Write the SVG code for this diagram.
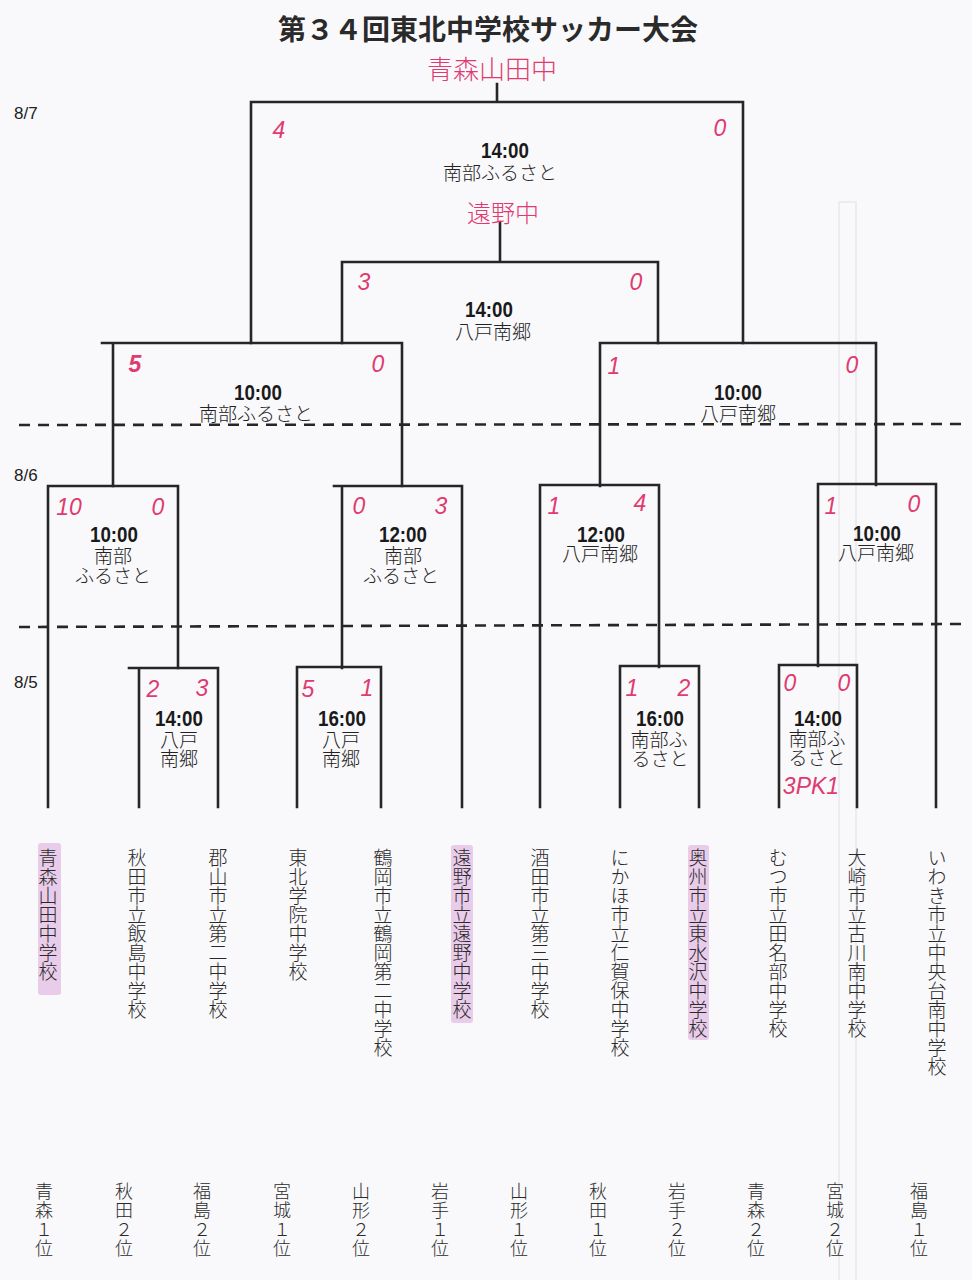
<svg xmlns="http://www.w3.org/2000/svg" width="972" height="1280" viewBox="0 0 972 1280">
<style>
.ln{stroke:#262626;stroke-width:2.6;fill:none;stroke-linecap:square}
.dash{stroke:#262626;stroke-width:2.6;stroke-dasharray:11 8;fill:none}
.t{font-family:"Noto Sans CJK JP","Noto Sans CJK SC",sans-serif;font-size:19px;fill:#222;text-anchor:middle;font-weight:300}
.tm{font-family:"Liberation Sans",sans-serif;font-size:22px;fill:#1a1a1a;text-anchor:middle;font-weight:bold}
.sc{font-family:"Liberation Sans","Noto Sans CJK JP",sans-serif;font-style:italic;font-size:23px;fill:#e03a70;text-anchor:middle}
.hw{font-family:"Noto Sans CJK JP",sans-serif;fill:#e03a70;text-anchor:middle;font-weight:300}
.v{font-family:"Noto Sans CJK JP","Noto Sans CJK SC",sans-serif;font-size:19px;fill:#2a2a2a;writing-mode:vertical-rl;font-weight:300}
.vb{font-family:"Noto Sans CJK JP","Noto Sans CJK SC",sans-serif;font-size:18px;fill:#2a2a2a;writing-mode:vertical-rl;font-weight:300;letter-spacing:1px}
.dt{font-family:"Liberation Sans Narrow","Liberation Sans",sans-serif;font-size:17px;fill:#222}
.hl{fill:#dca6dc;opacity:0.55}
</style>
<rect width="972" height="1280" fill="#f9f9fb"/>
<rect x="839" y="202" width="17" height="1090" fill="none" stroke="#ececf0" stroke-width="2"/>

<text x="488" y="40" font-family="Noto Sans CJK JP, sans-serif" font-size="28" font-weight="bold" fill="#2a2a2a" text-anchor="middle">第３４回東北中学校サッカー大会</text>

<g id="dates">
<text class="dt" x="14" y="119">8/7</text>
<text class="dt" x="14" y="481">8/6</text>
<text class="dt" x="14" y="688">8/5</text>
</g>

<g id="connectors">
<line class="dash" x1="19" y1="425" x2="964" y2="424"/>
<line class="dash" x1="19" y1="627" x2="964" y2="624"/>
<path class="ln" d="M497 84V102M251 343V102H743V343"/>
<path class="ln" d="M500 222V262M342 343V262H658V343"/>
<path class="ln" d="M113 486V343H102M102 343H402V486"/>
<path class="ln" d="M600 486V343H876V485"/>
<path class="ln" d="M48 807V486H178V668"/>
<path class="ln" d="M342 668V486H334M334 486H462V807"/>
<path class="ln" d="M540 807V485H659V667"/>
<path class="ln" d="M818 666V484H936V807"/>
<path class="ln" d="M139 807V668H129M129 668H218V807"/>
<path class="ln" d="M297 807V667H381V807"/>
<path class="ln" d="M620 807V666H699V807"/>
<path class="ln" d="M779 807V665H857V807"/>
</g>

<g id="final">
<text class="hw" x="492" y="79" font-size="26">青森山田中</text>
<text class="sc" x="279" y="138">4</text>
<text class="sc" x="720" y="136">0</text>
<text class="tm" x="505" y="158" textLength="48" lengthAdjust="spacingAndGlyphs">14:00</text>
<text class="t" x="500" y="180">南部ふるさと</text>
<text class="hw" x="503" y="222" font-size="24">遠野中</text>
</g>
<g id="match-inner">
<text class="sc" x="364" y="290">3</text>
<text class="sc" x="636" y="290">0</text>
<text class="tm" x="489" y="317" textLength="48" lengthAdjust="spacingAndGlyphs">14:00</text>
<text class="t" x="493" y="339">八戸南郷</text>
</g>
<g id="qf-left">
<text class="sc" x="135" y="372" font-weight="bold">5</text>
<text class="sc" x="378" y="372">0</text>
<text class="tm" x="258" y="400" textLength="48" lengthAdjust="spacingAndGlyphs">10:00</text>
<text class="t" x="256" y="421">南部ふるさと</text>
</g>
<g id="qf-right">
<text class="sc" x="614" y="374">1</text>
<text class="sc" x="852" y="373">0</text>
<text class="tm" x="738" y="400" textLength="48" lengthAdjust="spacingAndGlyphs">10:00</text>
<text class="t" x="738" y="421">八戸南郷</text>
</g>
<g id="r2-1">
<text class="sc" x="69" y="515">10</text>
<text class="sc" x="158" y="515">0</text>
<text class="tm" x="114" y="542" textLength="48" lengthAdjust="spacingAndGlyphs">10:00</text>
<text class="t" x="113" y="563">南部</text>
<text class="t" x="113" y="583">ふるさと</text>
</g>
<g id="r2-2">
<text class="sc" x="359" y="514">0</text>
<text class="sc" x="441" y="514">3</text>
<text class="tm" x="403" y="542" textLength="48" lengthAdjust="spacingAndGlyphs">12:00</text>
<text class="t" x="403" y="563">南部</text>
<text class="t" x="401" y="583">ふるさと</text>
</g>
<g id="r2-3">
<text class="sc" x="554" y="514">1</text>
<text class="sc" x="640" y="511">4</text>
<text class="tm" x="601" y="542" textLength="48" lengthAdjust="spacingAndGlyphs">12:00</text>
<text class="t" x="600" y="561">八戸南郷</text>
</g>
<g id="r2-4">
<text class="sc" x="831" y="514">1</text>
<text class="sc" x="914" y="512">0</text>
<text class="tm" x="877" y="541" textLength="48" lengthAdjust="spacingAndGlyphs">10:00</text>
<text class="t" x="876" y="560">八戸南郷</text>
</g>
<g id="r1-1">
<text class="sc" x="153" y="697">2</text>
<text class="sc" x="202" y="696">3</text>
<text class="tm" x="179" y="726" textLength="48" lengthAdjust="spacingAndGlyphs">14:00</text>
<text class="t" x="179" y="747">八戸</text>
<text class="t" x="179" y="766">南郷</text>
</g>
<g id="r1-2">
<text class="sc" x="308" y="697">5</text>
<text class="sc" x="367" y="696">1</text>
<text class="tm" x="342" y="726" textLength="48" lengthAdjust="spacingAndGlyphs">16:00</text>
<text class="t" x="341" y="747">八戸</text>
<text class="t" x="341" y="766">南郷</text>
</g>
<g id="r1-3">
<text class="sc" x="632" y="696">1</text>
<text class="sc" x="684" y="696">2</text>
<text class="tm" x="660" y="726" textLength="48" lengthAdjust="spacingAndGlyphs">16:00</text>
<text class="t" x="659" y="747">南部ふ</text>
<text class="t" x="660" y="766">るさと</text>
</g>
<g id="r1-4">
<text class="sc" x="790" y="691">0</text>
<text class="sc" x="844" y="691">0</text>
<text class="tm" x="818" y="726" textLength="48" lengthAdjust="spacingAndGlyphs">14:00</text>
<text class="t" x="817" y="746">南部ふ</text>
<text class="t" x="817" y="765">るさと</text>
<text class="sc" x="811" y="794" font-size="20">3PK1</text>
</g>

<rect class="hl" x="38" y="843" width="23" height="152" rx="3"/>
<rect class="hl" x="451" y="845" width="22" height="178" rx="3"/>
<rect class="hl" x="688" y="845" width="21" height="195" rx="3" opacity="0.35"/>

<g id="team-1"><text class="v" x="48" y="848">青森山田中学校</text><text class="vb" x="44" y="1182">青森１位</text></g>
<g id="team-2"><text class="v" x="137" y="848">秋田市立飯島中学校</text><text class="vb" x="124" y="1182">秋田２位</text></g>
<g id="team-3"><text class="v" x="218" y="848">郡山市立第二中学校</text><text class="vb" x="202" y="1182">福島２位</text></g>
<g id="team-4"><text class="v" x="298" y="848">東北学院中学校</text><text class="vb" x="282" y="1182">宮城１位</text></g>
<g id="team-5"><text class="v" x="383" y="848">鶴岡市立鶴岡第二中学校</text><text class="vb" x="361" y="1182">山形２位</text></g>
<g id="team-6"><text class="v" x="462" y="848">遠野市立遠野中学校</text><text class="vb" x="440" y="1182">岩手１位</text></g>
<g id="team-7"><text class="v" x="540" y="848">酒田市立第三中学校</text><text class="vb" x="519" y="1182">山形１位</text></g>
<g id="team-8"><text class="v" x="620" y="848">にかほ市立仁賀保中学校</text><text class="vb" x="598" y="1182">秋田１位</text></g>
<g id="team-9"><text class="v" x="698" y="848">奥州市立東水沢中学校</text><text class="vb" x="677" y="1182">岩手２位</text></g>
<g id="team-10"><text class="v" x="778" y="848">むつ市立田名部中学校</text><text class="vb" x="756" y="1182">青森２位</text></g>
<g id="team-11"><text class="v" x="857" y="848">大崎市立古川南中学校</text><text class="vb" x="835" y="1182">宮城２位</text></g>
<g id="team-12"><text class="v" x="937" y="848">いわき市立中央台南中学校</text><text class="vb" x="919" y="1182">福島１位</text></g>
</svg>
